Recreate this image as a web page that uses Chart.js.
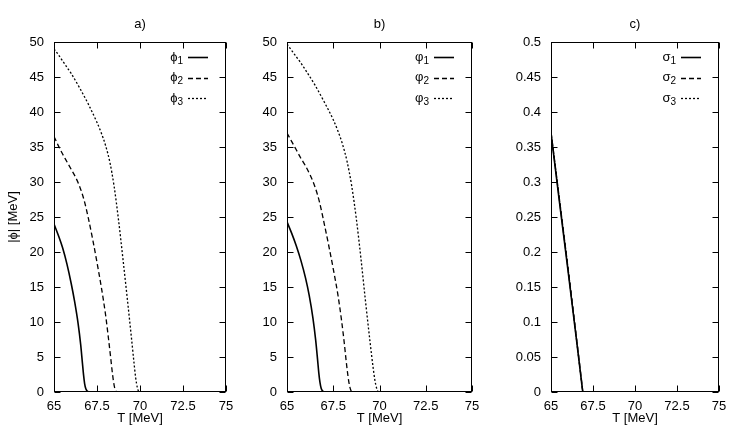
<!DOCTYPE html>
<html><head><meta charset="utf-8">
<script src="https://cdn.jsdelivr.net/npm/chart.js@4/dist/chart.umd.min.js"></script>
<style>
html,body{margin:0;padding:0;background:#fff;}
#wrap{position:relative;width:747px;height:433px;overflow:hidden;}
canvas{position:absolute;left:0;top:0;}
</style>
</head><body>
<div id="wrap">
<canvas id="ca" width="747" height="433"></canvas>
<canvas id="cb" width="747" height="433"></canvas>
<canvas id="cc" width="747" height="433"></canvas>
</div>
<script>
// ---------- data ----------
const xTickLabels = ['65', '67.5', '70', '72.5', '75'];
const panelTitles = ['a)', 'b)', 'c)'];

// panel a) : phi_i vs T
const tA1 = [65, 65.25, 65.5, 65.75, 66, 66.2, 66.4, 66.55, 66.65, 66.72, 66.78, 66.85, 66.95, 67.05, 75];
const phiA1 = [24, 22.4, 20.6, 18.3, 15.5, 12.9, 9.8, 6.8, 4.2, 2.4, 1.2, 0.45, 0.1, 0, 0];
const tA2 = [65, 65.25, 65.5, 65.75, 66, 66.25, 66.5, 66.75, 67, 67.25, 67.5, 67.75, 68, 68.15, 68.3, 68.4, 68.5, 68.58, 68.65, 75];
const phiA2 = [36.5, 35.2, 34.0, 32.9, 31.8, 30.7, 29.3, 27.4, 24.8, 21.8, 18.5, 15.0, 11.0, 8.0, 4.8, 2.6, 0.9, 0.2, 0, 0];
const tA3 = [65, 65.25, 65.5, 65.75, 66, 66.5, 67, 67.5, 67.75, 68, 68.25, 68.5, 68.75, 69, 69.25, 69.5, 69.65, 69.75, 69.85, 69.95, 75];
const phiA3 = [49, 48.2, 47.3, 46.4, 45.5, 43.4, 41.1, 38.5, 37.0, 35.2, 32.8, 29.3, 24.6, 19.2, 13.6, 7.8, 4.2, 2.0, 0.6, 0, 0];

// panel b) : varphi_i vs T
const tB1 = [65, 65.25, 65.5, 65.75, 66, 66.2, 66.4, 66.55, 66.65, 66.72, 66.78, 66.85, 66.95, 67.05, 75];
const phiB1 = [24.3, 22.7, 20.9, 18.8, 16.3, 13.8, 10.6, 7.4, 4.7, 2.7, 1.4, 0.5, 0.1, 0, 0];
const tB2 = [65, 65.25, 65.5, 65.75, 66, 66.25, 66.5, 66.75, 67, 67.25, 67.5, 67.75, 67.95, 68.1, 68.2, 68.3, 68.38, 68.45, 68.52, 75];
const phiB2 = [37, 35.8, 34.6, 33.4, 32.3, 31.0, 29.4, 27.2, 24.2, 21.0, 17.6, 13.9, 10.2, 6.9, 4.4, 2.2, 0.9, 0.25, 0, 0];
const tB3 = [65, 65.25, 65.5, 65.75, 66, 66.5, 67, 67.5, 67.75, 68, 68.25, 68.5, 68.75, 69, 69.25, 69.5, 69.65, 69.75, 69.85, 69.95, 75];
const phiB3 = [49.7, 48.8, 47.9, 47.0, 46.0, 43.9, 41.5, 38.9, 37.3, 35.4, 32.9, 29.4, 24.7, 19.0, 12.8, 6.9, 3.6, 1.7, 0.5, 0, 0];

// panel c) : sigma_i vs T
const tC = [65, 65.5, 66, 66.5, 66.75, 66.85, 66.9, 75];
const sigC1 = [0.370, 0.272, 0.176, 0.078, 0.028, 0.008, 0, 0];
const sigC2 = [0.372, 0.276, 0.180, 0.080, 0.030, 0.010, 0, 0];
const sigC3 = [0.371, 0.275, 0.179, 0.079, 0.029, 0.009, 0, 0];

const legendA = ['\u03D5', '\u03D5', '\u03D5'];
const legendB = ['\u03C6', '\u03C6', '\u03C6'];
const legendC = ['\u03C3', '\u03C3', '\u03C3'];
const legendSubs = ['1', '2', '3'];

// ---------- helpers ----------
const FONT = "'Liberation Sans', Arial, Helvetica, sans-serif";
Chart.defaults.font.family = FONT;
Chart.defaults.font.size = 13;
Chart.defaults.color = '#000';

function pts(xs, ys) { return xs.map((x, i) => ({ x: x, y: ys[i] })); }

const styles = [
  { borderWidth: 1.6, borderDash: [] },
  { borderWidth: 1.3, borderDash: [5, 3] },
  { borderWidth: 1.3, borderDash: [2, 2] }
];

function ds(xs, ys, i, sym) {
  return {
    label: sym + legendSubs[i],
    sym: sym, sub: legendSubs[i],
    data: pts(xs, ys),
    borderColor: '#000',
    backgroundColor: '#000',
    borderWidth: styles[i].borderWidth,
    borderDash: styles[i].borderDash,
    pointRadius: 0,
    fill: false,
    cubicInterpolationMode: 'monotone',
    tension: 0.4
  };
}

const framePlugin = {
  id: 'frame',
  afterDraw(chart, args, opts) {
    const ctx = chart.ctx, a = chart.chartArea;
    const xs = chart.scales.x, ys = chart.scales.y;
    const L = Math.round(a.left) + 0.5, R = Math.round(a.right) - 0.5;
    const T = Math.round(a.top) + 0.5, B = Math.round(a.bottom) - 0.5;
    ctx.save();
    ctx.strokeStyle = '#000';
    ctx.lineWidth = 1;
    ctx.setLineDash([]);
    ctx.strokeRect(L, T, R - L, B - T);
    const tl = 6;
    ctx.beginPath();
    xs.ticks.forEach(t => {
      const px = Math.round(xs.getPixelForValue(t.value)) + 0.5;
      ctx.moveTo(px, B); ctx.lineTo(px, B - tl);
      ctx.moveTo(px, T); ctx.lineTo(px, T + tl);
    });
    ys.ticks.forEach(t => {
      const py = Math.round(ys.getPixelForValue(t.value)) + 0.5;
      ctx.moveTo(L, py); ctx.lineTo(L + tl, py);
      ctx.moveTo(R, py); ctx.lineTo(R - tl, py);
    });
    ctx.stroke();

    // panel title
    ctx.fillStyle = '#000';
    ctx.font = '13px ' + FONT;
    ctx.textAlign = 'center';
    ctx.textBaseline = 'middle';
    ctx.fillText(opts.title, (a.left + a.right) / 2, 24);

    // x axis title
    ctx.fillText('T [MeV]', (a.left + a.right) / 2, 418);

    // y axis title
    if (opts.ytitle) {
      ctx.save();
      ctx.translate(13, (a.top + a.bottom) / 2);
      ctx.rotate(-Math.PI / 2);
      ctx.fillText(opts.ytitle, 0, 0);
      ctx.restore();
    }

    // legend
    chart.data.datasets.forEach((d, i) => {
      const y = a.top + 15 + i * 20.5;
      ctx.save();
      ctx.strokeStyle = '#000';
      ctx.lineWidth = d.borderWidth;
      ctx.setLineDash(d.borderDash);
      ctx.beginPath();
      ctx.moveTo(a.right - 38, Math.round(y) + 0.5);
      ctx.lineTo(a.right - 18, Math.round(y) + 0.5);
      ctx.stroke();
      ctx.restore();
      ctx.font = '10px ' + FONT;
      const sw = ctx.measureText(d.sub).width;
      ctx.textAlign = 'left';
      ctx.textBaseline = 'middle';
      ctx.fillText(d.sub, a.right - 43 - sw, y + 4);
      ctx.font = '13px ' + FONT;
      ctx.textAlign = 'right';
      ctx.fillText(d.sym, a.right - 43 - sw, y);
    });
    ctx.restore();
  }
};

function makeChart(id, datasets, left, right, ymax, ystep, title, ytitle) {
  const yW = 40, xH = 41;
  return new Chart(document.getElementById(id), {
    type: 'line',
    data: { datasets: datasets },
    options: {
      responsive: false,
      animation: false,
      events: [],
      layout: { padding: { left: left - yW, right: 747 - right, top: 42, bottom: 433 - 392 - xH } },
      plugins: { legend: { display: false }, tooltip: { enabled: false }, title: { display: false },
                 frame: { title: title, ytitle: ytitle } },
      scales: {
        x: {
          type: 'linear', min: 65, max: 75,
          ticks: { stepSize: 2.5, padding: 7, maxRotation: 0, autoSkip: false,
                   callback: (v, i) => xTickLabels[i] },
          grid: { display: false, drawTicks: false },
          border: { display: false },
          afterFit: s => { s.height = xH; }
        },
        y: {
          type: 'linear', min: 0, max: ymax,
          ticks: { stepSize: ystep, padding: 10, autoSkip: false,
                   callback: v => String(Number(v.toFixed(2))) },
          grid: { display: false, drawTicks: false },
          border: { display: false },
          afterFit: s => { s.width = yW; }
        }
      }
    },
    plugins: [framePlugin]
  });
}

makeChart('ca', [
  ds(tA1, phiA1, 0, legendA[0]),
  ds(tA2, phiA2, 1, legendA[1]),
  ds(tA3, phiA3, 2, legendA[2])
], 54, 226, 50, 5, panelTitles[0], '|\u03D5| [MeV]');

makeChart('cb', [
  ds(tB1, phiB1, 0, legendB[0]),
  ds(tB2, phiB2, 1, legendB[1]),
  ds(tB3, phiB3, 2, legendB[2])
], 287, 472, 50, 5, panelTitles[1], null);

makeChart('cc', [
  ds(tC, sigC1, 0, legendC[0]),
  ds(tC, sigC2, 1, legendC[1]),
  ds(tC, sigC3, 2, legendC[2])
], 551, 719, 0.5, 0.05, panelTitles[2], null);
</script>
</body></html>
